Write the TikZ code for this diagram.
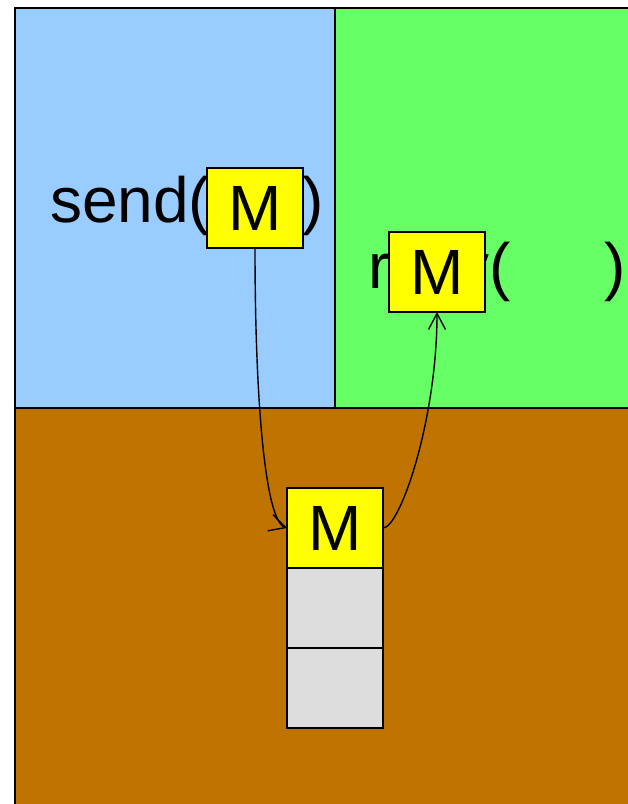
\documentclass[tikz,border=0pt]{standalone}
\usepackage{fontspec}
\setmainfont{Liberation Sans}
\usetikzlibrary{arrows.meta}
\definecolor{sendblue}{RGB}{153,204,255}
\definecolor{recvgreen}{RGB}{102,255,102}
\definecolor{kernelbrown}{RGB}{191,115,0}
\definecolor{msgyellow}{RGB}{255,255,0}
\definecolor{slotgray}{RGB}{221,221,221}
\tikzset{
  region/.style={draw=black, line width=1.8pt},
  bigtext/.style={font=\fontsize{64}{64}\selectfont, inner sep=0pt, anchor=base west},
  cell/.style={draw=black, line width=1.5pt, minimum width=96pt, minimum height=80pt,
    inner sep=0pt, outer sep=0pt},
  msgbox/.style={cell, fill=msgyellow, font=\fontsize{64}{64}\selectfont},
  slotbox/.style={cell, fill=slotgray},
  flow/.style={line width=1.4pt, -{Straight Barb[length=16pt,width=17pt,line width=1.4pt]}}
}
\begin{document}
\begin{tikzpicture}[x=1pt,y=-1pt]
  \useasboundingbox (0,0) rectangle (628,804);
  \clip (0,0) rectangle (628,804);
  \fill[white] (0,0) rectangle (628,804);

  % process and kernel areas
  \draw[region, fill=sendblue] (15,8) rectangle (335,408);
  \draw[region, fill=recvgreen] (335,8) rectangle (640,408);
  \draw[region, fill=kernelbrown] (15,408) rectangle (640,820);

  % calls
  \node[bigtext] (sendcall) at (50,222) {send(\hspace{92pt})};
  \node[bigtext] (recvcall) at (368,288) {recv(\hspace{94pt})};

  % messages
  \node[msgbox] (sendM) at (255,208) {M};
  \node[msgbox] (recvM) at (437,272) {M};

  % message queue
  \node[msgbox] (qM) at (335,528) {M};
  \node[slotbox, anchor=north] (q2) at (qM.south) {};
  \node[slotbox, anchor=north] (q3) at (q2.south) {};

  % transfers
  \draw[flow] (sendM.south) .. controls ++(0,152) and ++(-22,-7) .. (qM.west);
  \draw[flow] (qM.east) .. controls ++(17,0) and ++(0,108) .. (recvM.south);
\end{tikzpicture}
\end{document}
